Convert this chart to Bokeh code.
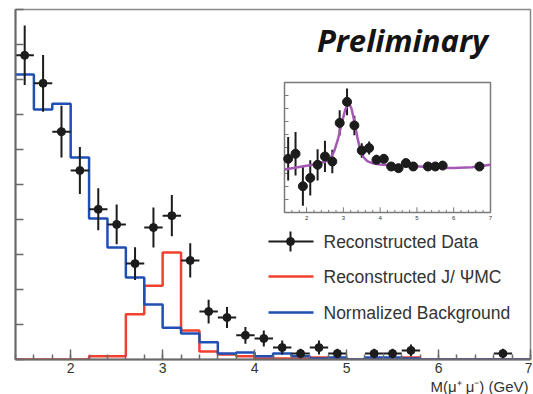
import numpy as np
from bokeh.plotting import figure
from bokeh.models import Range1d, SingleIntervalTicker, Title, CustomJSTickFormatter
from bokeh.core.properties import value
from bokeh.embed import file_html
from bokeh.resources import INLINE

# ---------------- data ----------------
bin_centers = [1.5, 1.7, 1.9, 2.1, 2.3, 2.5, 2.7, 2.9, 3.1, 3.3, 3.5, 3.7, 3.9, 4.1,
               4.3, 4.5, 4.7, 4.9, 5.1, 5.3, 5.5, 5.7, 5.9, 6.1, 6.3, 6.5, 6.7, 6.9]
bin_width = 0.2
jpsi_mc = [0.0, 0.0, 0.0, 0.0, 0.09, 0.09, 1.29, 2.11, 3.06, 0.83, 0.23, 0.14, 0.09, 0.03,
           0.03, 0.03, 0.06, 0.0, 0.0, 0.0, 0.0, 0.06, 0.0, 0.0, 0.0, 0.0, 0.0, 0.0]
background = [8.14, 7.14, 7.31, 5.77, 4.03, 3.20, 2.34, 1.57, 0.91, 0.74, 0.49, 0.17, 0.20, 0.09,
              0.17, 0.09, 0.03, 0.06, 0.0, 0.06, 0.06, 0.03, 0.0, 0.0, 0.0, 0.0, 0.0, 0.0]

data_x = [1.5, 1.7, 1.9, 2.1, 2.3, 2.5, 2.7, 2.9, 3.1, 3.3, 3.5, 3.7, 3.9, 4.1,
          4.3, 4.5, 4.7, 4.9, 5.3, 5.5, 5.7, 6.7]
data_y = [8.69, 7.89, 6.51, 5.40, 4.29, 3.86, 2.74, 3.77, 4.11, 2.83, 1.37, 1.20, 0.69, 0.60,
          0.34, 0.17, 0.34, 0.17, 0.17, 0.17, 0.26, 0.17]
data_err = [0.85, 0.81, 0.74, 0.67, 0.60, 0.57, 0.47, 0.57, 0.59, 0.49, 0.34, 0.30, 0.24, 0.23,
            0.20, 0.14, 0.20, 0.14, 0.14, 0.14, 0.17, 0.14]

inset_x = data_x
inset_y = [4.13, 4.52, 2.02, 2.66, 3.67, 4.31, 3.92, 6.89, 8.51, 6.70, 4.77, 4.96, 4.05, 4.13,
           3.54, 3.41, 3.80, 3.54, 3.54, 3.54, 3.61, 3.54]
inset_err = [1.67, 1.67, 1.50, 1.35, 1.20, 1.20, 0.90, 0.97, 1.03, 0.75, 0.55, 0.50, 0.40, 0.35,
             0.30, 0.30, 0.30, 0.30, 0.28, 0.28, 0.28, 0.28]

fit_x = [1.4, 1.8, 2.2, 2.5, 2.65, 2.75, 2.85, 2.95, 3.05, 3.12, 3.17, 3.22, 3.3, 3.38, 3.46,
         3.55, 3.65, 3.8, 4.0, 4.5, 5.0, 5.5, 6.0, 6.5, 7.0]
fit_y = [3.30, 3.50, 3.70, 3.90, 4.20, 4.70, 5.60, 6.80, 7.90, 8.30, 8.30, 8.00, 7.00, 5.80, 4.80,
         4.25, 3.95, 3.78, 3.70, 3.60, 3.55, 3.45, 3.42, 3.48, 3.68]

x_tick_labels = [2, 3, 4, 5, 6, 7]
legend_labels = ["Reconstructed Data", "Reconstructed J/ \u03a8MC", "Normalized Background"]
x_title = "M(\u03bc\u207a \u03bc\u207b) (GeV)"

# ---------------- styles ----------------
RED = "#f0402e"
BLUE = "#1f4fb4"
PURPLE = "#a558b5"
BLACK = "#1c1c1c"
AXIS = "#6a6a6a"
TXT = "#333333"
FONT = "Liberation Sans"

FRAME_W, FRAME_H = 515, 350
p = figure(width=532, height=394, x_range=Range1d(1.4, 7.0), y_range=Range1d(0, 10),
           output_backend="svg", toolbar_location=None,
           min_border_left=15, min_border_right=2, min_border_top=9, min_border_bottom=35)
p.background_fill_color = "white"
p.border_fill_color = "white"
p.outline_line_color = "#888888"
p.outline_line_width = 1.5
p.xgrid.visible = False
p.ygrid.visible = False

p.xaxis.ticker = SingleIntervalTicker(interval=1, num_minor_ticks=5)
p.xaxis.major_tick_in = 10
p.xaxis.major_tick_out = 0
p.xaxis.minor_tick_in = 5
p.xaxis.minor_tick_out = 0
p.xaxis.axis_line_color = AXIS
p.xaxis.axis_line_width = 2
p.xaxis.major_tick_line_color = AXIS
p.xaxis.minor_tick_line_color = AXIS
p.xaxis.major_tick_line_width = 1.5
p.xaxis.minor_tick_line_width = 1.5
p.xaxis.major_label_text_font = FONT
p.xaxis.major_label_text_font_size = "14px"
p.xaxis.major_label_text_color = TXT
p.xaxis.major_label_standoff = 3
p.xaxis.major_label_overrides = {v: str(v) for v in x_tick_labels}

p.yaxis.ticker = SingleIntervalTicker(interval=1, num_minor_ticks=0)
p.yaxis.major_tick_in = 8
p.yaxis.major_tick_out = 0
p.yaxis.axis_line_color = AXIS
p.yaxis.axis_line_width = 2
p.yaxis.major_tick_line_color = AXIS
p.yaxis.major_tick_line_width = 1.5
p.yaxis.formatter = CustomJSTickFormatter(code="return ''")
p.yaxis.major_label_standoff = 0
p.yaxis.major_label_text_font_size = "1px"

# x-axis title, right aligned below the axis
p.add_layout(Title(text=x_title, align="right", text_font=FONT, text_font_size="15px",
                   text_font_style="normal", text_color=TXT, standoff=0, offset=2), "below")

# ---------------- main histograms ----------------
edges = [c - bin_width / 2 for c in bin_centers] + [bin_centers[-1] + bin_width / 2]
p.step(edges, jpsi_mc + [jpsi_mc[-1]], mode="after", line_color=RED, line_width=2.5)
p.step(edges, background + [background[-1]], mode="after", line_color=BLUE, line_width=2.5)

dx = np.array(data_x)
dy = np.array(data_y)
de = np.array(data_err)
p.segment(dx, dy - de, dx, dy + de, line_color=BLACK, line_width=2)
p.segment(dx - bin_width / 2, dy, dx + bin_width / 2, dy, line_color=BLACK, line_width=2)
p.scatter(dx, dy, size=8, fill_color=BLACK, line_color=BLACK)

# ---------------- inset (placed via extra ranges) ----------------
IN_L, IN_R, IN_T, IN_B = 269, 475, 73, 203   # inset box in frame pixels
sx = (IN_R - IN_L) / (7.0 - 1.4)
sy = (IN_B - IN_T) / 10.0
p.extra_x_ranges = {"ix": Range1d(1.4 - IN_L / sx, 7.0 + (FRAME_W - IN_R) / sx),
                    "fx": Range1d(0, FRAME_W)}
p.extra_y_ranges = {"iy": Range1d(0 - (FRAME_H - IN_B) / sy, 10 + IN_T / sy),
                    "fy": Range1d(0, FRAME_H)}
kw = dict(x_range_name="ix", y_range_name="iy")

p.quad(left=[1.4], right=[7.0], bottom=[0], top=[10], fill_color="white",
       line_color="#7a7a7a", line_width=1.5, **kw)
# inset ticks
iy_ticks = np.arange(1, 10)
p.segment(np.full(len(iy_ticks), 1.4), iy_ticks, np.full(len(iy_ticks), 1.4 + 0.11), iy_ticks,
          line_color="#7a7a7a", line_width=1, **kw)
ix_major = np.array(x_tick_labels[:-1], dtype=float)
ix_minor = np.array([v for v in np.round(np.arange(1.6, 7.0, 0.2), 1) if abs(v - round(v)) > 1e-6])
p.segment(ix_major, np.zeros(len(ix_major)), ix_major, np.full(len(ix_major), 0.4),
          line_color="#7a7a7a", line_width=1, **kw)
p.segment(ix_minor, np.zeros(len(ix_minor)), ix_minor, np.full(len(ix_minor), 0.2),
          line_color="#7a7a7a", line_width=1, **kw)
p.text(x=x_tick_labels, y=[-0.25] * len(x_tick_labels), text=[str(v) for v in x_tick_labels],
       text_font=value(FONT), text_font_size="6px", text_color=TXT,
       text_align="center", text_baseline="top", **kw)

ix = np.array(inset_x)
iyv = np.array(inset_y)
ie = np.array(inset_err)
p.segment(ix, iyv - ie, ix, iyv + ie, line_color=BLACK, line_width=2, **kw)
p.line(fit_x, fit_y, line_color=PURPLE, line_width=2.5, **kw)
p.scatter(ix, iyv, size=9, fill_color=BLACK, line_color=BLACK, **kw)

# ---------------- legend (frame-pixel coordinates) ----------------
fkw = dict(x_range_name="fx", y_range_name="fy")
rows = [118, 83, 47]
colors = [BLACK, RED, BLUE]
p.segment([253] * 3, rows, [298] * 3, rows, line_color=colors, line_width=[2, 2.5, 2.5], **fkw)
p.segment([275], [rows[0] - 10], [275], [rows[0] + 10], line_color=BLACK, line_width=2, **fkw)
p.scatter([275], [rows[0]], size=8, fill_color=BLACK, line_color=BLACK, **fkw)
p.text(x=[308] * 3, y=rows, text=legend_labels, text_font=value(FONT),
       text_font_size="17.5px", text_color=TXT, text_baseline="middle", **fkw)

# "Preliminary"
p.text(x=[387], y=[320], text=["Preliminary"], text_font=value("Open Sans"),
       text_font_style="bold italic", text_font_size="31px", text_color="#141414",
       text_align="center", text_baseline="middle", **fkw)

open("out.html", "w").write(file_html(p, INLINE))
